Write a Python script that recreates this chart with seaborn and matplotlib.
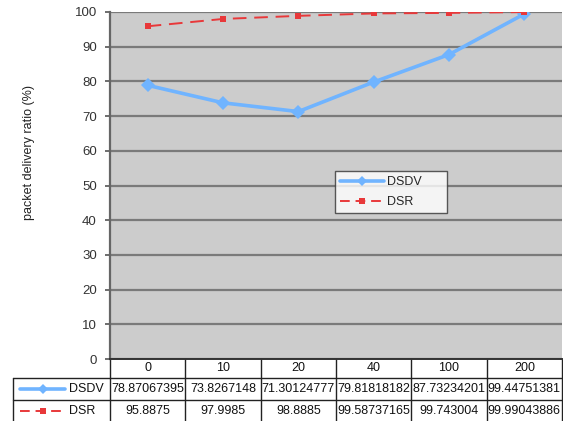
import matplotlib
matplotlib.use("Agg")
import matplotlib.pyplot as plt
from matplotlib.lines import Line2D
import seaborn as sns
import pandas as pd

# Pause time categories and packet delivery ratio per protocol
pause_times = ["0", "10", "20", "40", "100", "200"]
dsdv_values = [78.87067395, 73.8267148, 71.30124777, 79.81818182, 87.73234201, 99.44751381]
dsr_values = [95.8875, 97.9985, 98.8885, 99.58737165, 99.743004, 99.99043886]
dsdv_text = ["78.87067395", "73.8267148", "71.30124777", "79.81818182", "87.73234201", "99.44751381"]
dsr_text = ["95.8875", "97.9985", "98.8885", "99.58737165", "99.743004", "99.99043886"]
series_names = ["DSDV", "DSR"]
y_ticks = [0, 10, 20, 30, 40, 50, 60, 70, 80, 90, 100]

sns.set_theme(style="white")
plt.rcParams["font.family"] = ["Liberation Sans", "DejaVu Sans"]

df = pd.DataFrame({
    "pause": pause_times * 2,
    "pdr": dsdv_values + dsr_values,
    "protocol": [series_names[0]] * len(pause_times) + [series_names[1]] * len(pause_times),
})

colors = {"DSDV": "#70b4ff", "DSR": "#e8383a"}

fig = plt.figure(figsize=(5.63, 4.21), dpi=100)
ax = fig.add_axes([110 / 563, 1 - 359 / 421, 452 / 563, 347 / 421])
ax.set_facecolor("#cccccc")

sns.lineplot(data=df[df.protocol == "DSDV"], x="pause", y="pdr", sort=False, ax=ax,
             color=colors["DSDV"], linewidth=2.6, marker="D", markersize=7,
             markeredgewidth=0, legend=False)
sns.lineplot(data=df[df.protocol == "DSR"], x="pause", y="pdr", sort=False, ax=ax,
             color=colors["DSR"], linewidth=1.4, marker="s", markersize=4.5,
             markeredgewidth=0, dashes=(7, 4), legend=False)

ax.set_xlim(-0.5, len(pause_times) - 0.5)
ax.set_ylim(0, 100)
ax.set_yticks(y_ticks)
ax.yaxis.grid(True, color="#7a7a7a", linewidth=1.6)
ax.set_axisbelow(True)
ax.set_xticks([])
ax.set_xlabel("")
ax.set_ylabel("packet delivery ratio (%)", fontsize=9, color="#222222")
ax.yaxis.set_label_coords((35 - 110) / 452, (359 - 152) / 347)
ax.tick_params(axis="y", which="both", left=True, length=3.5, width=1.2, color="#555555",
               labelsize=9.5, labelcolor="#333333", pad=6)
for side in ["top", "right"]:
    ax.spines[side].set_visible(False)
ax.spines["left"].set_color("#666666")
ax.spines["left"].set_linewidth(1.6)
ax.spines["bottom"].set_color("#333333")
ax.spines["bottom"].set_linewidth(1.4)

# Legend box
handles = [
    Line2D([], [], color=colors["DSDV"], linewidth=2.6, marker="D", markersize=5, markeredgewidth=0),
    Line2D([], [], color=colors["DSR"], linewidth=1.4, marker="s", markersize=4, markeredgewidth=0,
           dashes=(5, 3)),
]
leg_w = 112 / 452
leg_h = 44 / 347
leg_top = (359 - 171) / 347
leg = ax.legend(handles, series_names, loc="upper left",
                bbox_to_anchor=(335 / 452 - 110 / 452, leg_top - leg_h, leg_w, leg_h),
                mode="expand", borderaxespad=0, frameon=True, fancybox=False, fontsize=9,
                handlelength=3.5, labelspacing=0.65, borderpad=0.4, handletextpad=0.25)
leg.get_frame().set_edgecolor("#333333")
leg.get_frame().set_linewidth(1.0)
leg.get_frame().set_facecolor("white")

# Data table under the axis
def ay(py):
    return (359 - py) / 347

n = len(pause_times)
x_left = (12.7 - 110) / 452
y_head_top, y_head_bot = ay(359), ay(377.5)
y_dsdv_bot = ay(400)
y_dsr_bot = ay(425)
lkw = dict(color="#222222", linewidth=1.0, transform=ax.transAxes, clip_on=False)

for k in range(n + 1):
    ax.add_line(Line2D([k / n, k / n], [y_head_top, y_dsr_bot], **lkw))
ax.add_line(Line2D([x_left, 1], [y_head_bot, y_head_bot], **lkw))
ax.add_line(Line2D([x_left, 1], [y_dsdv_bot, y_dsdv_bot], **lkw))
ax.add_line(Line2D([x_left, x_left], [y_head_bot, y_dsr_bot], **lkw))

tkw = dict(transform=ax.transAxes, ha="center", va="center", fontsize=9, color="#111111", clip_on=False)
row_mid = [(y_head_top + y_head_bot) / 2, (y_head_bot + y_dsdv_bot) / 2, (y_dsdv_bot + ay(421)) / 2]
for k in range(n):
    xc = (k + 0.5) / n
    ax.text(xc, row_mid[0], pause_times[k], **tkw)
    ax.text(xc, row_mid[1], dsdv_text[k], **tkw)
    ax.text(xc, row_mid[2], dsr_text[k], **tkw)

# Row labels with series keys
key_x0, key_x1 = (20 - 110) / 452, (65 - 110) / 452
label_x = (69 - 110) / 452
ax.add_line(Line2D([key_x0, key_x1], [row_mid[1]] * 2, color=colors["DSDV"], linewidth=2.6,
                   transform=ax.transAxes, clip_on=False))
ax.add_line(Line2D([(key_x0 + key_x1) / 2], [row_mid[1]], color=colors["DSDV"], marker="D",
                   markersize=5, markeredgewidth=0, transform=ax.transAxes, clip_on=False))
ax.add_line(Line2D([key_x0, key_x1], [row_mid[2]] * 2, color=colors["DSR"], linewidth=1.4,
                   dashes=(5, 3), transform=ax.transAxes, clip_on=False))
ax.add_line(Line2D([(key_x0 + key_x1) / 2], [row_mid[2]], color=colors["DSR"], marker="s",
                   markersize=4, markeredgewidth=0, transform=ax.transAxes, clip_on=False))
ax.text(label_x, row_mid[1], series_names[0], transform=ax.transAxes, ha="left", va="center",
        fontsize=9, color="#111111", clip_on=False)
ax.text(label_x, row_mid[2], series_names[1], transform=ax.transAxes, ha="left", va="center",
        fontsize=9, color="#111111", clip_on=False)

fig.savefig("out.png", dpi=100)
